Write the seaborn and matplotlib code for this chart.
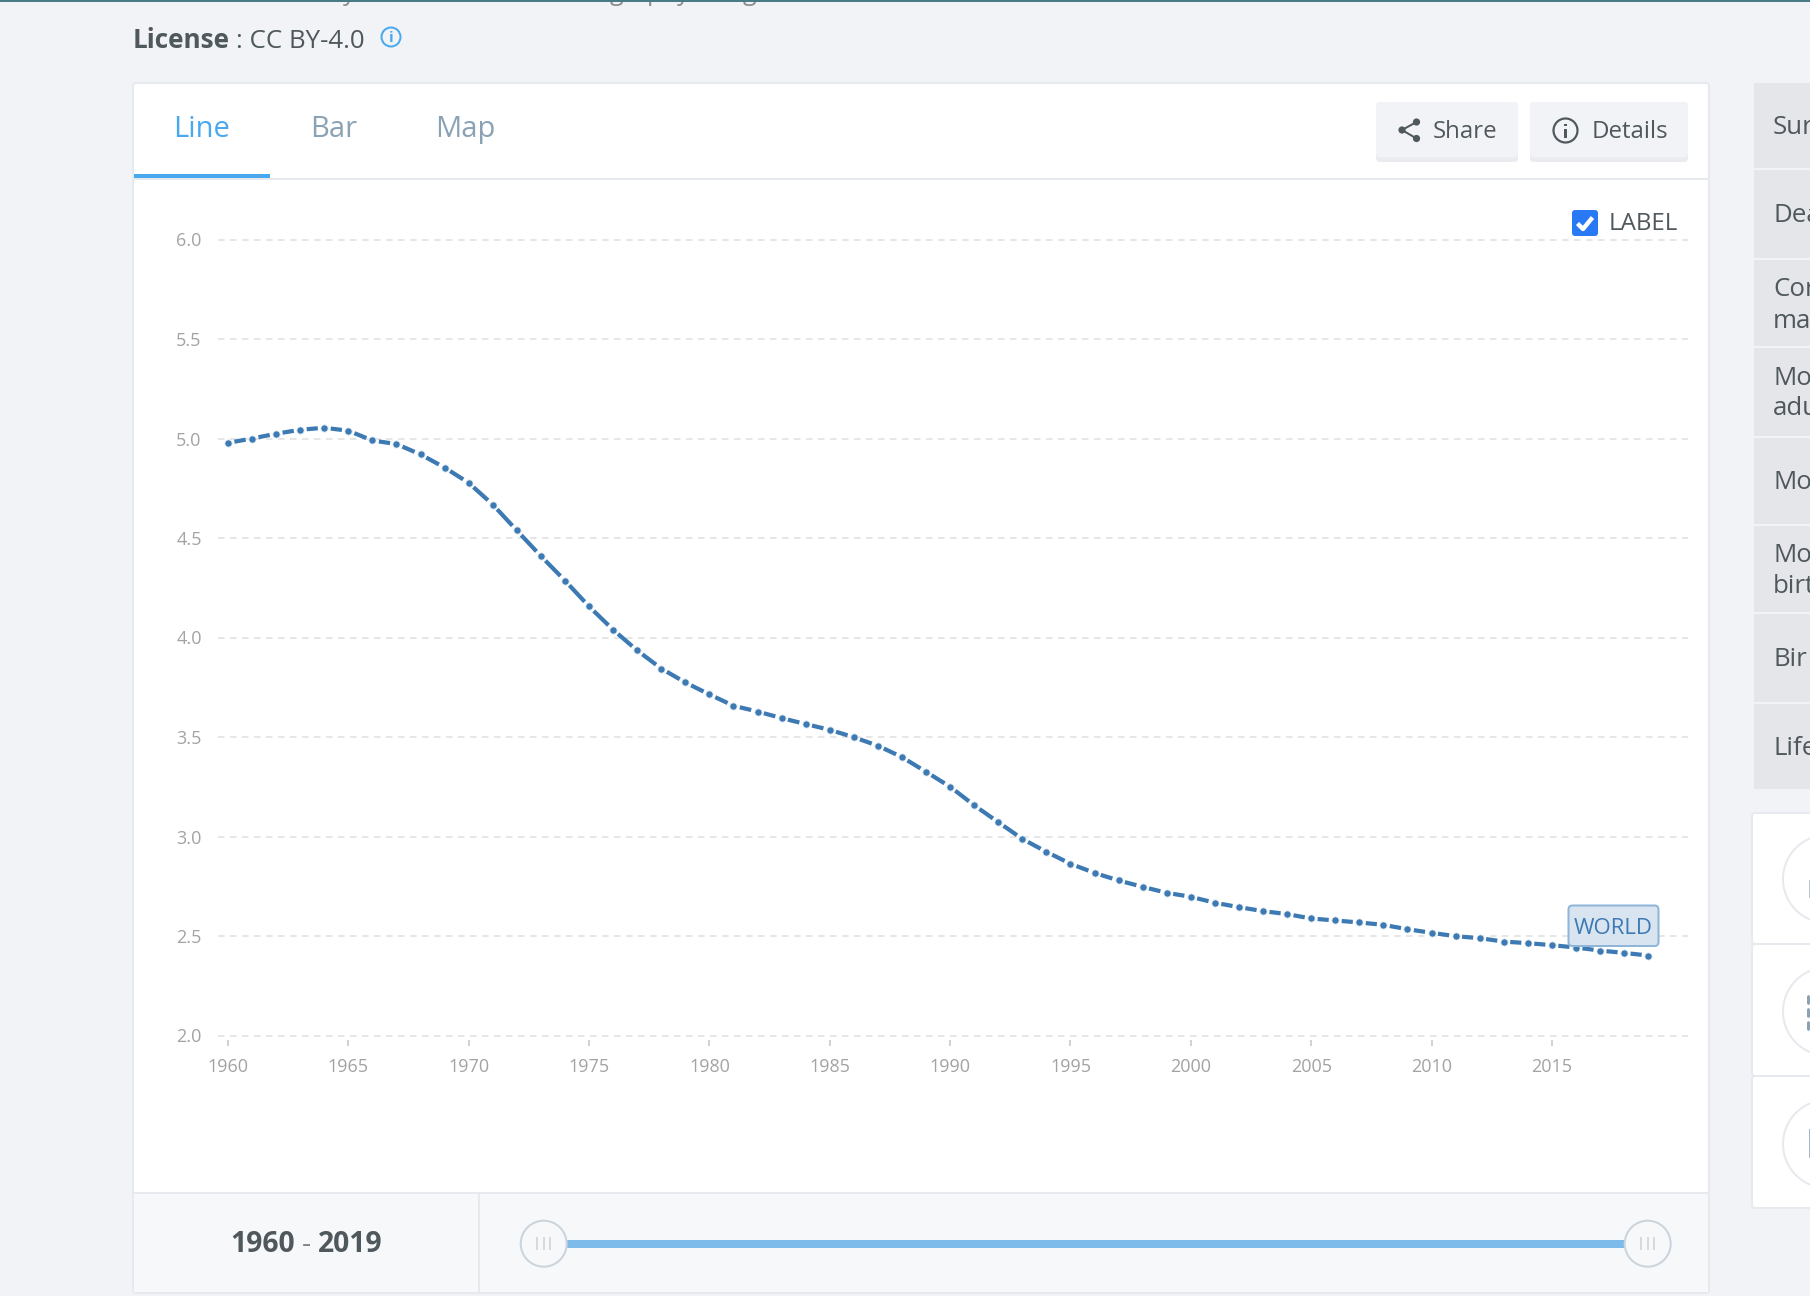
import matplotlib
matplotlib.use("Agg")
import matplotlib.pyplot as plt
from matplotlib.patches import FancyBboxPatch, Circle, Rectangle
import pandas as pd
import seaborn as sns

# World fertility series, 1960-2019
years = list(range(1960, 2020))
fertility = [
    4.978, 5.000, 5.024, 5.044, 5.054, 5.039, 4.990, 4.972, 4.920, 4.854,
    4.777, 4.668, 4.538, 4.409, 4.286, 4.156, 4.039, 3.935, 3.844, 3.774,
    3.714, 3.657, 3.628, 3.595, 3.565, 3.536, 3.499, 3.456, 3.399, 3.325,
    3.250, 3.157, 3.072, 2.988, 2.923, 2.863, 2.817, 2.779, 2.747, 2.717,
    2.697, 2.667, 2.645, 2.625, 2.610, 2.588, 2.578, 2.568, 2.556, 2.534,
    2.516, 2.499, 2.489, 2.472, 2.464, 2.454, 2.442, 2.427, 2.415, 2.402,
]
x_ticks = list(range(1960, 2016, 5))
y_ticks = [2.0, 2.5, 3.0, 3.5, 4.0, 4.5, 5.0, 5.5, 6.0]
sidebar_rows = [
    ("Sur", None), ("Dea", None), ("Cor", "ma"), ("Mo", "adu"),
    ("Mo", None), ("Mo", "birt"), ("Bir", None), ("Life", None),
]

W, H = 1810, 1296
PAGE = "#F1F3F7"
BORDER = "#E6E9ED"
STRIP = "#F7F8FA"
DARK = "#4F585C"
ACCENT = "#4AA8EE"
MUTED = "#8AA2B4"
LINE = "#3D7AB3"
TICK = "#A3A3A3"
PT = 72 / 100  # points per pixel at 100 dpi

sns.set_theme(style="white")
plt.rcParams["font.family"] = ["Open Sans", "DejaVu Sans"]
plt.rcParams["lines.scale_dashes"] = False
plt.rcParams["lines.dash_capstyle"] = "butt"

fig = plt.figure(figsize=(W / 100, H / 100), dpi=100, facecolor=PAGE)

# Page furniture lives in a full-figure axes measured in pixels
bg = fig.add_axes([0, 0, 1, 1], zorder=0)
bg.set_xlim(0, W)
bg.set_ylim(H, 0)
bg.axis("off")


def box(a, x0, y0, x1, y1, face, edge="none", lw=0, r=0, z=1):
    if r:
        p = FancyBboxPatch((x0, y0), x1 - x0, y1 - y0,
                           boxstyle=f"round,pad=0,rounding_size={r}",
                           fc=face, ec=edge, lw=lw * PT, zorder=z)
    else:
        p = Rectangle((x0, y0), x1 - x0, y1 - y0, fc=face, ec=edge,
                      lw=lw * PT, zorder=z)
    a.add_patch(p)
    return p


def label(a, x, y, s, size, color=DARK, weight="normal", ha="left", z=5):
    return a.text(x, y, s, fontsize=size, color=color, fontweight=weight,
                  ha=ha, va="baseline", zorder=z, clip_on=False)


# Clipped line of text from the section above
for gx, glyph in [(343, "y"), (610, "g"), (647, "p"), (677, "y"), (743, "g")]:
    label(bg, gx, 0, glyph, 18, color="#8A8F92")
box(bg, 0, 0, W, 2, "#4A7A85", z=6)

# License line
label(bg, 132.5, 48, "License", 18.8, weight="bold")
label(bg, 235.5, 48, ": CC BY-4.0", 18.6)
bg.add_patch(Circle((391, 37), 9.5, fc="none", ec=ACCENT, lw=2 * PT, zorder=5))
bg.text(391, 37.5, "i", fontsize=11, color=ACCENT, ha="center", va="center",
        fontweight="bold", zorder=6)

# Main card
box(bg, 133, 83, 1709, 1293, "white", edge=BORDER, lw=2, r=3)
box(bg, 134, 178, 1708, 180, BORDER, z=2)
box(bg, 134, 174, 270, 178, ACCENT, z=3)
label(bg, 173.5, 137, "Line", 21, color=ACCENT)
label(bg, 310.5, 137, "Bar", 21, color=MUTED)
label(bg, 435, 137, "Map", 21, color=MUTED)

# Share and Details buttons
for x0, x1 in [(1376, 1518), (1530, 1688)]:
    box(bg, x0, 102, x1, 162, "#E9EBEF", r=4, z=2)
    box(bg, x0, 102, x1, 157.5, "#F1F3F7", r=4, z=3)
label(bg, 1433, 138, "Share", 17.3)
label(bg, 1592, 138, "Details", 17.3)
share_nodes = [(1416.5, 122), (1402, 130), (1416.5, 138.5)]
for nx, ny in share_nodes:
    bg.add_patch(Circle((nx, ny), 3.6, fc=DARK, ec="none", zorder=5))
for i in (0, 2):
    bg.plot([share_nodes[1][0], share_nodes[i][0]],
            [share_nodes[1][1], share_nodes[i][1]],
            color=DARK, lw=2 * PT, zorder=5)
bg.add_patch(Circle((1565.5, 130.5), 12, fc="none", ec=DARK, lw=2.2 * PT, zorder=5))
box(bg, 1564.2, 129, 1566.8, 137.5, DARK, z=5)
box(bg, 1564.2, 123.5, 1566.8, 126.2, DARK, z=5)

# Label checkbox
box(bg, 1572, 210, 1598, 236, "#2979F5", r=3, z=3)
bg.plot([1577.5, 1583, 1592.5], [223.5, 229, 217.5], color="white",
        lw=4.4 * PT, solid_capstyle="butt", zorder=5)
label(bg, 1608.5, 230, "LABEL", 17.4)

# Bottom strip with the year-range slider
box(bg, 134, 1193, 1708, 1292, STRIP, z=2)
box(bg, 134, 1192, 1708, 1194, BORDER, z=3)
box(bg, 478, 1193, 480, 1292, BORDER, z=3)
label(bg, 230, 1252, str(years[0]), 20.3, weight="bold")
label(bg, 306, 1252, "-", 20.3, color="#7A8286", ha="center")
label(bg, 318, 1252, str(years[-1]), 20.3, weight="bold")
box(bg, 566, 1240, 1625, 1248, "#7DBBEB", z=3)
for cx in (543.7, 1647.7):
    bg.add_patch(Circle((cx, 1243.7), 23, fc=STRIP, ec="#CAD4DC", lw=2 * PT, zorder=4))
    for dx in (-6.5, 0, 6.5):
        box(bg, cx + dx - 1, 1237, cx + dx + 1, 1250, "#D6DADE", z=5)

# Sidebar list, running off the right edge
row_edges = [82, 169, 259, 347, 437, 525, 613, 703, 790]
row_baselines = [(134, None), (222, None), (296, 328), (385, 415),
                 (489, None), (562, 593), (666, None), (755, None)]
for i, (first, second) in enumerate(sidebar_rows):
    box(bg, 1754, row_edges[i] + 1, W + 4, row_edges[i + 1] - 1, "#E4E6EA", z=2)
    label(bg, 1773, row_baselines[i][0], first, 18.6)
    if second:
        label(bg, 1773, row_baselines[i][1], second, 18.6)

# Sidebar cards with round icons
card_edges = [813, 944, 1076, 1208]
for i in range(3):
    box(bg, 1752, card_edges[i], W + 8, card_edges[i + 1], "white", edge=BORDER, lw=2, r=3)
for cy in (879, 1011.5, 1144):
    bg.add_patch(Circle((1827, cy), 44, fc="white", ec=BORDER, lw=2 * PT, zorder=3))
box(bg, 1808.5, 880, W, 898, "#B8C6D2", z=4)
for y0 in (995, 1008, 1021):
    box(bg, 1807, y0, W, y0 + 10, MUTED, r=2, z=4)
box(bg, 1808.5, 1129, W, 1158, "#A6B6C4", z=4)

# Line chart axes: spans the gridlines, 218-1688 px across and 239.5-1035.5 px down
ax = fig.add_axes([218 / W, 1 - 1035.5 / H, (1688 - 218) / W, (1035.5 - 239.5) / H], zorder=1)
ax.patch.set_visible(False)
px_per_year = 24.07
ax.set_xlim(1960 - 10 / px_per_year, 1960 + 1460 / px_per_year)
ax.set_ylim(2.0, 6.0)

df = pd.DataFrame({"year": years, "fertility": fertility})

# Each interval gets one dash, centred between its two points
GAP = 6.5
to_px = ax.transData.transform
for (_, a), (_, b) in zip(df.iloc[:-1].iterrows(), df.iloc[1:].iterrows()):
    seg = df[df["year"].isin([a["year"], b["year"]])]
    p0, p1 = to_px([(a["year"], a["fertility"]), (b["year"], b["fertility"])])
    length = float(((p1 - p0) ** 2).sum() ** 0.5)
    on = max(length - 2 * GAP, 1) * PT
    off = 2 * GAP * PT
    sns.lineplot(data=seg, x="year", y="fertility", ax=ax, color=LINE,
                 lw=4.2 * PT, estimator=None, errorbar=None,
                 linestyle=(on + off / 2, (on, off)), legend=False, zorder=3)
sns.scatterplot(data=df, x="year", y="fertility", ax=ax, color=LINE, s=(7.2 * PT) ** 2,
                edgecolor="#DCE8F2", linewidth=0.8 * PT, legend=False, zorder=4)

ax.set_xlabel("")
ax.set_ylabel("")
sns.despine(ax=ax, left=True, bottom=True, top=True, right=True)
ax.spines["bottom"].set_position(("outward", 4 * PT))
ax.set_xticks(x_ticks)
ax.set_yticks(y_ticks)
ax.set_yticklabels([f"{v:.1f}" for v in y_ticks])
ax.tick_params(axis="x", bottom=True, length=6 * PT, width=2 * PT, color="#D2D2D2",
               labelsize=13, labelcolor=TICK, pad=13 * PT)
ax.tick_params(axis="y", left=False, labelsize=13, labelcolor=TICK, pad=8 * PT)
ax.yaxis.grid(True, color="#E6E6E6", lw=2 * PT, linestyle=(0, (6.5 * PT, 5.5 * PT)), zorder=1)
ax.xaxis.grid(False)
ax.set_axisbelow(True)
for gl in ax.get_ygridlines():
    gl.set_clip_on(False)

# Series tag, above the chart marks
fg = fig.add_axes([0, 0, 1, 1], zorder=2)
fg.set_xlim(0, W)
fg.set_ylim(H, 0)
fg.axis("off")
box(fg, 1568.5, 905.5, 1658.5, 946, "#D8E4F0", edge="#8FB5D8", lw=2, r=4, z=3)
label(fg, 1613, 934, "WORLD", 16, color=LINE, ha="center")

fig.savefig("out.png", dpi=100, facecolor=PAGE)
